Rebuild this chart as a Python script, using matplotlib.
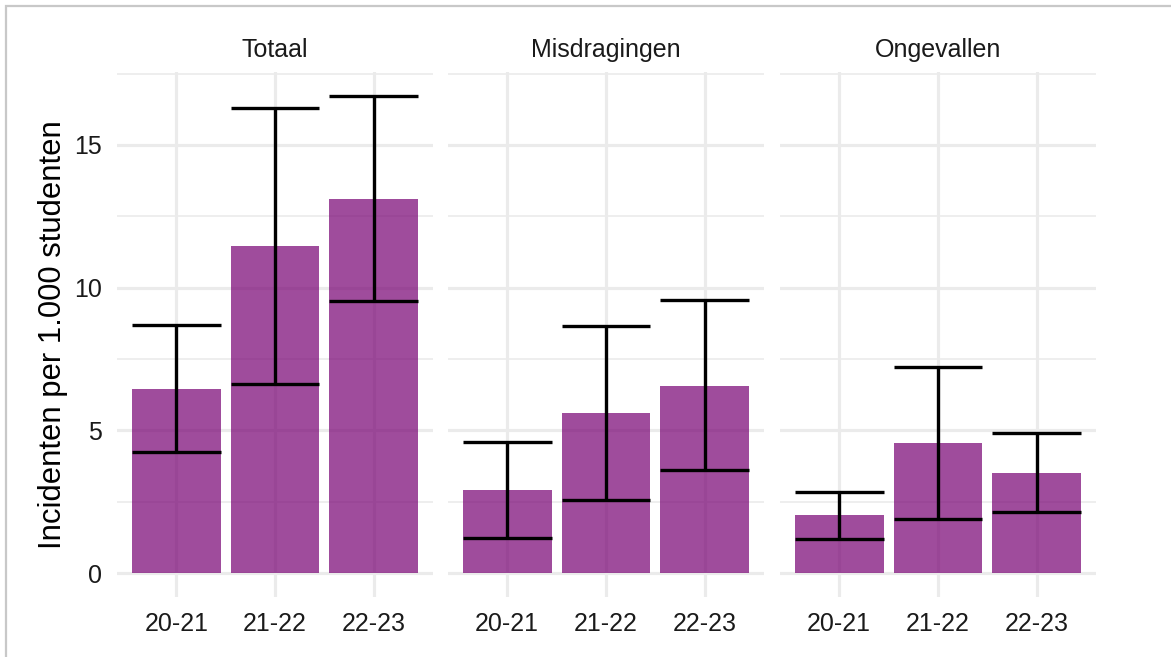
import numpy as np
import matplotlib.pyplot as plt
from matplotlib.patches import Rectangle

plt.rcParams['font.family'] = ['Liberation Sans', 'DejaVu Sans']

# data
panels = ['Totaal', 'Misdragingen', 'Ongevallen']
years = ['20-21', '21-22', '22-23']
rate = {
    'Totaal': [6.45, 11.46, 13.11],
    'Misdragingen': [2.91, 5.61, 6.55],
    'Ongevallen': [2.03, 4.56, 3.50],
}
lower = {
    'Totaal': [4.24, 6.62, 9.53],
    'Misdragingen': [1.23, 2.56, 3.61],
    'Ongevallen': [1.20, 1.90, 2.13],
}
upper = {
    'Totaal': [8.69, 16.30, 16.72],
    'Misdragingen': [4.59, 8.66, 9.57],
    'Ongevallen': [2.85, 7.23, 4.90],
}

W, H = 1171, 657
fig = plt.figure(figsize=(W / 100, H / 100), dpi=100)

# outer grey frame (cut off at right and bottom)
fig.patches.append(Rectangle((6 / W, -0.1), 1.2, 1 - 6 / H + 0.1,
                             transform=fig.transFigure, fill=False,
                             edgecolor='#c8c8c8', linewidth=1.6))

lefts = [117, 448, 780]
pw = 316
top, bottom = 72, 597

ymax_all = max(max(v) for v in upper.values())
ylim = (-0.05 * ymax_all, ymax_all * 1.05)

x = np.arange(1, len(years) + 1)
axes = []
for i, name in enumerate(panels):
    ax = fig.add_axes([lefts[i] / W, (H - bottom) / H, pw / W, (bottom - top) / H])
    axes.append(ax)
    ax.set_xlim(0.4, 3.6)
    ax.set_ylim(*ylim)
    for s in ax.spines.values():
        s.set_visible(False)
    ax.set_axisbelow(True)
    ax.set_yticks([0, 5, 10, 15])
    ax.set_yticks([2.5, 7.5, 12.5, 17.5], minor=True)
    ax.grid(True, which='major', color='#ebebeb', linewidth=2.3)
    ax.grid(True, which='minor', axis='y', color='#ebebeb', linewidth=1.2)
    ax.set_xticks(x)
    ax.set_xticklabels(years)
    ax.tick_params(length=0, labelsize=18, pad=11, colors='#1a1a1a')
    ax.tick_params(which='minor', length=0)
    if i > 0:
        ax.tick_params(labelleft=False)

    ax.bar(x, rate[name], width=0.9, color='#770072', alpha=0.7, linewidth=0)
    lo = np.array(rate[name]) - np.array(lower[name])
    hi = np.array(upper[name]) - np.array(rate[name])
    ax.errorbar(x, rate[name], yerr=[lo, hi], fmt='none', ecolor='black',
                elinewidth=2.4, capsize=0)
    # caps as wide as the bars
    ax.hlines(lower[name], x - 0.45, x + 0.45, color='black', linewidth=2.4)
    ax.hlines(upper[name], x - 0.45, x + 0.45, color='black', linewidth=2.4)

    fig.text((lefts[i] + pw / 2) / W, (H - 50) / H, name, fontsize=18,
             ha='center', va='center', color='#1a1a1a')

axes[0].set_ylabel('Incidenten per 1.000 studenten', fontsize=22.3, labelpad=4)

plt.savefig('out.png', dpi=100)
